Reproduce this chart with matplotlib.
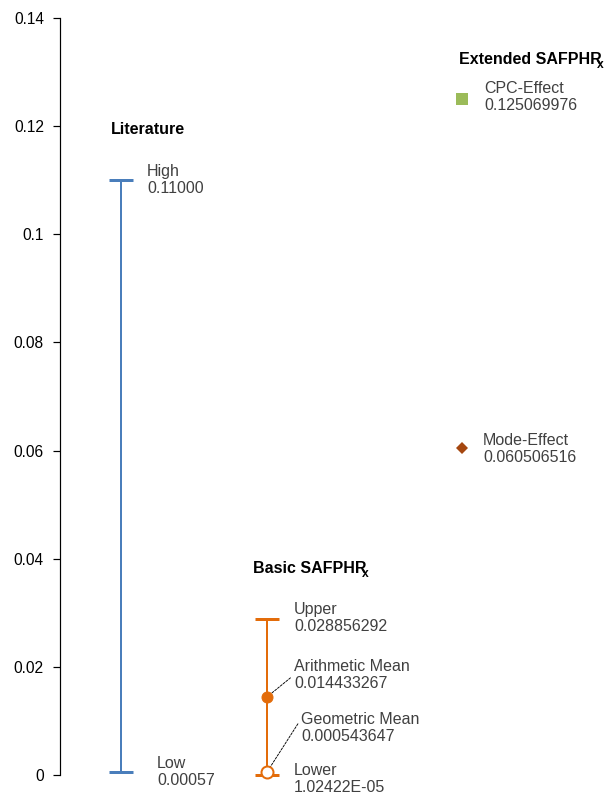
import matplotlib
matplotlib.use("Agg")
import matplotlib.pyplot as plt

plt.rcParams['font.family'] = ['Liberation Sans', 'DejaVu Sans']

# ---- data ----
group_titles = ["Literature", "Basic SAFPHR", "Extended SAFPHR"]
group_subs = ["", "x", "x"]
lit_labels = ["High", "Low"]
lit_values = [0.11000, 0.00057]
lit_texts = ["0.11000", "0.00057"]
basic_labels = ["Upper", "Arithmetic Mean", "Geometric Mean", "Lower"]
basic_values = [0.028856292, 0.014433267, 0.000543647, 1.02422e-05]
basic_texts = ["0.028856292", "0.014433267", "0.000543647", "1.02422E-05"]
ext_labels = ["CPC-Effect", "Mode-Effect"]
ext_values = [0.125069976, 0.060506516]
ext_texts = ["0.125069976", "0.060506516"]
yticks = [0, 0.02, 0.04, 0.06, 0.08, 0.1, 0.12, 0.14]

# ---- layout ----
W, H = 605, 795
DPI = 72
fig = plt.figure(figsize=(W / DPI, H / DPI), dpi=DPI)
ax = fig.add_axes([60 / W, 20 / H, 545 / W, 757 / H])
ax.set_xlim(0, 545)
ax.set_ylim(0, 0.14)
gx = [61, 207, 402]  # group x positions

BLUE = "#4a7ebb"
ORANGE = "#e36c0a"
GREEN = "#9bbb59"
BROWN = "#a5470f"
GRAY = "#404040"
FS = 16

for s in ["top", "right", "bottom"]:
    ax.spines[s].set_visible(False)
ax.spines["left"].set_linewidth(1.2)
ax.set_xticks([])
ax.set_yticks(yticks)
ax.set_yticklabels([f"{v:g}" for v in yticks], fontsize=15.5)
ax.tick_params(axis='y', length=7, width=1.2, pad=9)

def label(x, y, name, txt, dx, dy, **kw):
    return ax.annotate(f"{name}\n{txt}", xy=(x, y), xytext=(dx, dy),
                       textcoords="offset points", ha="left", va="center",
                       fontsize=FS, color=GRAY, linespacing=1.2, **kw)

def title(x, y, main, sub):
    t = ax.text(x, y, main, fontsize=FS, fontweight="bold",
                ha="left", va="center", color="black")
    if sub:
        ax.annotate(sub, xy=(1, 0), xycoords=t, xytext=(-5, 2),
                    textcoords="offset points", ha="left", va="center",
                    fontsize=12, fontweight="bold", color="black")
    return t

# Literature
ax.errorbar([gx[0]], [(lit_values[0] + lit_values[1]) / 2],
            yerr=[[(lit_values[0] - lit_values[1]) / 2], [(lit_values[0] - lit_values[1]) / 2]],
            fmt='none', ecolor=BLUE, elinewidth=2, capsize=12, capthick=3)
title(gx[0] - 10, 0.1194, group_titles[0], group_subs[0])
label(gx[0], lit_values[0], lit_labels[0], lit_texts[0], 26, 0)
label(gx[0], lit_values[1], lit_labels[1], lit_texts[1], 36, 0)

# Basic
up, am, gm, lo = basic_values
ax.errorbar([gx[1]], [(up + lo) / 2], yerr=[[(up - lo) / 2], [(up - lo) / 2]],
            fmt='none', ecolor=ORANGE, elinewidth=2, capsize=12, capthick=3)
ax.plot([gx[1]], [am], 'o', color=ORANGE, ms=11, zorder=5)
ax.plot([gx[1]], [gm], 'o', mfc="white", mec=ORANGE, mew=2, ms=12, zorder=5)
title(gx[1] - 14, 0.0381, group_titles[1], group_subs[1])
label(gx[1], up, basic_labels[0], basic_texts[0], 27, 1)
label(gx[1], am, basic_labels[1], basic_texts[1], 27, 22,
      arrowprops=dict(arrowstyle='-', linestyle=(0, (2.5, 1.5)), color="black", lw=0.9,
                      relpos=(0, 0.5), shrinkA=2, shrinkB=6))
label(gx[1], gm, basic_labels[2], basic_texts[2], 34, 44,
      arrowprops=dict(arrowstyle='-', linestyle=(0, (2.5, 1.5)), color="black", lw=0.9,
                      relpos=(0, 0.78), shrinkA=2, shrinkB=6))
label(gx[1], lo, basic_labels[3], basic_texts[3], 27, -4)

# Extended
ax.plot([gx[2]], [ext_values[0]], 's', color=GREEN, ms=12, mew=0)
ax.plot([gx[2]], [ext_values[1]], 'D', color=BROWN, ms=9, mew=0)
title(gx[2] - 3, 0.1324, group_titles[2], group_subs[2])
label(gx[2], ext_values[0], ext_labels[0], ext_texts[0], 22, 2)
label(gx[2], ext_values[1], ext_labels[1], ext_texts[1], 21, -1)

for artist in ax.get_children():
    try:
        artist.set_clip_on(False)
    except Exception:
        pass

fig.savefig("out.png", dpi=DPI)
